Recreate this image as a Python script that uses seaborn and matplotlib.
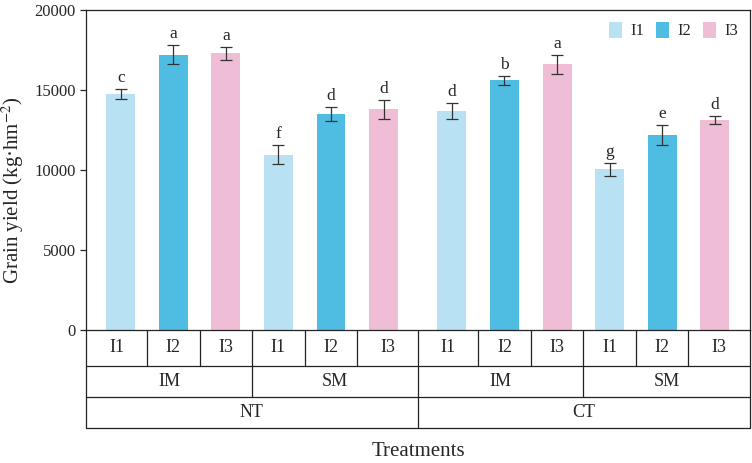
import numpy as np
import pandas as pd
import matplotlib
matplotlib.use("Agg")
import matplotlib.pyplot as plt
import matplotlib.transforms as mtransforms
import seaborn as sns

# ---------------- data ----------------
tillage = ["NT"] * 6 + ["CT"] * 6
mulch = ["IM", "IM", "IM", "SM", "SM", "SM"] * 2
irrigation = ["I1", "I2", "I3"] * 4
grain_yield = [14750, 17200, 17300, 10950, 13500, 13800,
               13700, 15600, 16600, 10050, 12200, 13150]
yield_err = [300, 600, 400, 600, 440, 600,
             500, 260, 600, 400, 620, 250]
letters = ["c", "a", "a", "f", "d", "d",
           "d", "b", "a", "g", "e", "d"]
irr_levels = ["I1", "I2", "I3"]
colors = ["#b8e2f4", "#4fbde2", "#f0bdd6"]
y_ticks = [0, 5000, 10000, 15000, 20000]

# ---------------- layout ----------------
gap = 0.3
pos = [i + (gap if i >= 6 else 0) for i in range(12)]
df = pd.DataFrame({"pos": pos, "yield": grain_yield, "irr": irrigation})

sns.set_style("ticks")
plt.rcParams["font.family"] = ["Liberation Serif", "DejaVu Serif"]
plt.rcParams["mathtext.fontset"] = "stix"

fig = plt.figure(figsize=(7.52, 4.63), dpi=100)
ax = fig.add_axes([86 / 752, 133 / 463, 664 / 752, 320 / 463])

sns.barplot(data=df, x="pos", y="yield", hue="irr", hue_order=irr_levels,
            palette=colors, saturation=1, native_scale=True, dodge=False,
            width=0.55, errorbar=None, linewidth=0, ax=ax)

ax.errorbar(pos, grain_yield, yerr=yield_err, fmt="none", ecolor="#333333",
            elinewidth=0.9, capsize=4, capthick=0.9)

for x, y, e, t in zip(pos, grain_yield, yield_err, letters):
    ax.annotate(t, (x, y + e), xytext=(0, 2), textcoords="offset points",
                ha="center", va="bottom", fontsize=12.5)

xmin, xmax = -0.66, 11 + gap + 0.67
ax.set_xlim(xmin, xmax)
ax.set_ylim(0, 20000)
ax.set_yticks(y_ticks)
ax.tick_params(axis="y", labelsize=12, length=4, width=0.9, direction="out")
ax.tick_params(axis="x", bottom=False, labelbottom=False)
ax.set_xlabel("")
ax.set_ylabel("")
for s in ax.spines.values():
    s.set_linewidth(0.9)
    s.set_color("#222222")

fig.text(13 / 752, 1 - 190 / 463, "Grain yield (kg·hm$^{-2}$)", rotation=90,
         ha="center", va="center", fontsize=15)

# legend
handles, labels = ax.get_legend_handles_labels()
ax.legend(handles, labels, loc="upper right", ncol=3, frameon=False,
          fontsize=12, handlelength=0.8, handleheight=1.1,
          handletextpad=0.5, columnspacing=0.7, borderaxespad=0.3)

# ---------------- hierarchical table under axis ----------------
trans = mtransforms.blended_transform_factory(ax.transData, ax.transAxes)
r1, r2, r3 = -0.1116, -0.2084, -0.305
lk = dict(color="#222222", lw=0.9, transform=trans, clip_on=False)

for yy in (r1, r2, r3):
    ax.plot([xmin, xmax], [yy, yy], **lk)
ax.plot([xmin, xmin], [0, r3], **lk)
ax.plot([xmax, xmax], [0, r3], **lk)

grp_b = (5 + 6 + gap) / 2
ax.plot([grp_b, grp_b], [0, r3], **lk)

# row 1 boundaries and labels
b1 = [xmin] + [pos[i] + 0.5 for i in range(5)] + [grp_b] + \
     [pos[i] + 0.5 for i in range(6, 11)] + [xmax]
for i in range(12):
    if 0 < i < 12 and i != 6:
        ax.plot([b1[i], b1[i]], [0, r1], **lk)
    ax.text((b1[i] + b1[i + 1]) / 2, r1 / 2, irrigation[i], transform=trans,
            ha="center", va="center", fontsize=13)

# row 2
b2 = [xmin, pos[2] + 0.5, grp_b, pos[8] + 0.5, xmax]
for i in range(4):
    if i in (1, 3):
        ax.plot([b2[i], b2[i]], [r1, r2], **lk)
    ax.text((b2[i] + b2[i + 1]) / 2, (r1 + r2) / 2, mulch[i * 3],
            transform=trans, ha="center", va="center", fontsize=13)

# row 3
b3 = [xmin, grp_b, xmax]
for i in range(2):
    ax.text((b3[i] + b3[i + 1]) / 2, (r2 + r3) / 2, tillage[i * 6],
            transform=trans, ha="center", va="center", fontsize=13)

fig.text((86 + 750) / 2 / 752, 1 - 452 / 463, "Treatments",
         ha="center", va="center", fontsize=15)

fig.savefig("out.png", dpi=100)
